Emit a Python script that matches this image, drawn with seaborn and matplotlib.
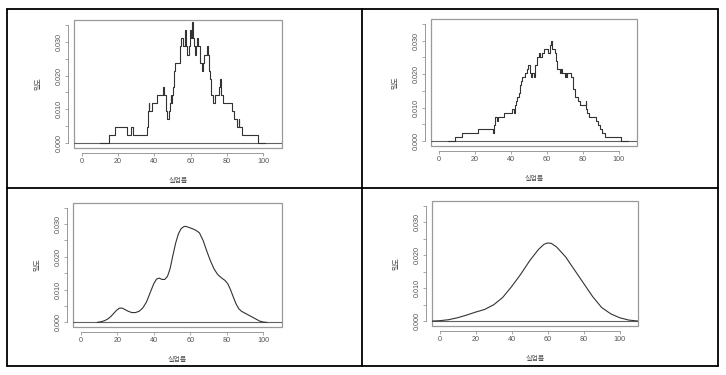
import matplotlib
matplotlib.use("Agg")
import matplotlib.pyplot as plt
import seaborn as sns
from matplotlib.lines import Line2D
from matplotlib.patches import Rectangle

sns.set_theme(style="white")
plt.rcParams['font.family'] = ['Liberation Sans', 'Noto Sans CJK KR', 'DejaVu Sans']

# top-left: rectangular kernel, small bandwidth (step breakpoints / levels)
tl_x = [10, 14.9, 18.2, 25.1, 27.1, 28.3, 35.8, 36.3, 36.8, 37.3, 38.9, 41.6, 44.6, 45.2,
        46.5, 46.9, 48.0, 48.4, 48.9, 49.4, 49.8, 50.3, 51.0, 51.5, 54.0, 54.9, 55.8, 56.8,
        57.4, 57.9, 59.0, 59.6, 60.3, 60.7, 61.2, 61.8, 62.4, 63.0, 63.5, 64.2, 65.3, 66.0,
        66.5, 67.3, 68.9, 69.5, 70.0, 70.6, 71.2, 72.3, 73.5, 75.5, 76.3, 76.7, 77.6, 82.5,
        84.0, 85.7, 86.3, 86.7, 88.2, 96.9, 101]
tl_y = [0, 0.0024, 0.0048, 0.0024, 0.0048, 0.0024, 0.0048, 0.0095, 0.0119, 0.0095, 0.0119,
        0.0143, 0.0167, 0.0143, 0.0095, 0.0071, 0.0095, 0.0119, 0.0143, 0.0119, 0.0143,
        0.0167, 0.0214, 0.0238, 0.0286, 0.0310, 0.0286, 0.0333, 0.0286, 0.0262, 0.0286,
        0.0333, 0.0310, 0.0357, 0.0310, 0.0286, 0.0262, 0.0286, 0.0310, 0.0286, 0.0238,
        0.0214, 0.0238, 0.0262, 0.0286, 0.0262, 0.0214, 0.0190, 0.0143, 0.0119, 0.0143,
        0.0167, 0.0190, 0.0143, 0.0119, 0.0095, 0.0071, 0.0048, 0.0071, 0.0048, 0.0024,
        0, 0]

# top-right: rectangular kernel, larger bandwidth
tr_x = [5, 9.4, 12.8, 21.7, 30.0, 30.9, 31.3, 32.3, 33.0, 36.5, 40.7, 41.8, 42.3, 43.2, 43.8,
        44.5, 45.2, 45.8, 46.6, 48.2, 49.0, 49.6, 50.6, 51.3, 52.0, 53.2, 53.8, 54.6, 55.6,
        56.6, 57.2, 58.3, 61.0, 61.7, 62.3, 62.9, 64.4, 65.2, 65.8, 67.4, 68.0, 68.7, 70.2,
        70.6, 71.0, 71.5, 73.8, 74.7, 75.8, 77.4, 78.3, 81.6, 82.0, 82.5, 83.4, 87.3, 88.4,
        89.7, 90.9, 92.7, 101.3, 105]
tr_y = [0, 0.0012, 0.0024, 0.0036, 0.0024, 0.0048, 0.0071, 0.0060, 0.0071, 0.0083, 0.0095,
        0.0083, 0.0107, 0.0119, 0.0131, 0.0143, 0.0167, 0.0179, 0.0190, 0.0202, 0.0214,
        0.0226, 0.0202, 0.0190, 0.0202, 0.0190, 0.0226, 0.0250, 0.0262, 0.0250, 0.0262,
        0.0274, 0.0262, 0.0286, 0.0298, 0.0274, 0.0262, 0.0238, 0.0214, 0.0202, 0.0214,
        0.0202, 0.0190, 0.0202, 0.0190, 0.0202, 0.0190, 0.0155, 0.0131, 0.0119, 0.0107,
        0.0119, 0.0095, 0.0083, 0.0071, 0.0060, 0.0048, 0.0036, 0.0024, 0.0012, 0, 0]

# bottom-left: gaussian kernel, small bandwidth
bl_x = [9, 11, 13, 15, 16.5, 18, 19.5, 21, 22.5, 24, 26, 28, 30, 32, 34, 36, 38, 40, 41.5,
        43, 44.5, 46, 47.5, 49, 50.5, 52, 53.5, 55, 56.5, 57.5, 59, 61, 63, 65, 67, 69,
        71, 73, 75, 77, 79, 80.5, 82, 83.5, 85, 86.5, 88, 90, 92, 94, 96, 98, 100, 102]
bl_y = [0, 0.0002, 0.0005, 0.0011, 0.0018, 0.0027, 0.0036, 0.0043, 0.0044, 0.0040, 0.0034,
        0.0030, 0.0030, 0.0034, 0.0044, 0.0062, 0.0090, 0.0118, 0.0132, 0.0135, 0.0131,
        0.0131, 0.0140, 0.0165, 0.0205, 0.0242, 0.0270, 0.0286, 0.0292, 0.0293, 0.0290,
        0.0286, 0.0281, 0.0273, 0.0250, 0.0218, 0.0188, 0.0163, 0.0146, 0.0136, 0.0128,
        0.0118, 0.0100, 0.0078, 0.0057, 0.0042, 0.0034, 0.0028, 0.0022, 0.0016, 0.0010,
        0.0004, 0.0001, 0]

# bottom-right: gaussian kernel, larger bandwidth
br_x = [-4, 0, 5, 10, 15, 20, 25, 30, 35, 40, 45, 50, 55, 58, 60, 62, 65, 70, 75, 80, 85, 90,
        95, 100, 105, 110]
br_y = [0.0001, 0.0002, 0.0005, 0.0011, 0.0019, 0.0028, 0.0036, 0.0050, 0.0072, 0.0105,
        0.0142, 0.0183, 0.0218, 0.0233, 0.0237, 0.0236, 0.0225, 0.0195, 0.0155, 0.0115,
        0.0075, 0.0042, 0.0023, 0.0011, 0.0004, 0.0001]

x_ticks = [0, 20, 40, 60, 80, 100]
y_ticks = [0, 0.005, 0.010, 0.015, 0.020, 0.025, 0.030, 0.035]
y_labels = ["0.000", "", "0.010", "", "0.020", "", "0.030", ""]
x_label = "실업률"
y_label = "밀도"

fig = plt.figure(figsize=(7.26, 3.75), dpi=100)

panels = [
    ([74 / 726, 1 - 148 / 375, 208 / 726, 128 / 375], tl_x, tl_y, True),
    ([431 / 726, 1 - 146 / 375, 206 / 726, 127 / 375], tr_x, tr_y, True),
    ([73 / 726, 1 - 327 / 375, 209 / 726, 124 / 375], bl_x, bl_y, False),
    ([432 / 726, 1 - 326 / 375, 206 / 726, 125 / 375], br_x, br_y, False),
]

for rect, xs, ys, steps in panels:
    ax = fig.add_axes(rect)
    ax.axhline(0, color="#606060", lw=0.8)
    kw = dict(drawstyle="steps-post") if steps else {}
    sns.lineplot(x=xs, y=ys, ax=ax, color="#333333", lw=0.8, sort=False,
                 estimator=None, **kw)
    ax.set_xlim(-4.2, 110.2)
    ax.set_ylim(-0.0014, 0.0364)
    for s in ["top", "right"]:
        ax.spines[s].set_visible(False)
    ax.spines["left"].set_position(("outward", 4.3))
    ax.spines["bottom"].set_position(("outward", 3.6))
    ax.spines["left"].set_bounds(0, 0.035)
    ax.spines["bottom"].set_bounds(0, 100)
    for s in ["left", "bottom"]:
        ax.spines[s].set_color("#999999")
        ax.spines[s].set_linewidth(0.7)
    ax.add_patch(Rectangle((0, 0), 1, 1, transform=ax.transAxes, fill=False,
                           ec="#999999", lw=0.9, clip_on=False))
    ax.set_xticks(x_ticks)
    ax.set_xticklabels([str(t) for t in x_ticks])
    ax.set_yticks(y_ticks)
    ax.set_yticklabels(y_labels, rotation=90, va="center")
    ax.tick_params(axis="both", direction="out", length=2.2, width=0.6, color="#999999",
                   labelsize=5.2, labelcolor="#555555", pad=1.5, left=True, bottom=True)
    ax.set_xlabel(x_label, fontsize=5, color="#555555", labelpad=9)
    ax.set_ylabel(y_label, fontsize=5, color="#555555", labelpad=10)
    ax.set_facecolor("white")

# table borders around the four panels
L, R, T, B, MX, MY = 7, 718, 9, 366, 362, 188
for xs, ys in [([L, R], [T, T]), ([L, R], [B, B]), ([L, R], [MY, MY]),
               ([L, L], [T, B]), ([R, R], [T, B]), ([MX, MX], [T, B])]:
    fig.add_artist(Line2D([x / 726 for x in xs], [1 - y / 375 for y in ys],
                          transform=fig.transFigure, color="black", lw=1.3))

fig.savefig("out.png", dpi=100)
